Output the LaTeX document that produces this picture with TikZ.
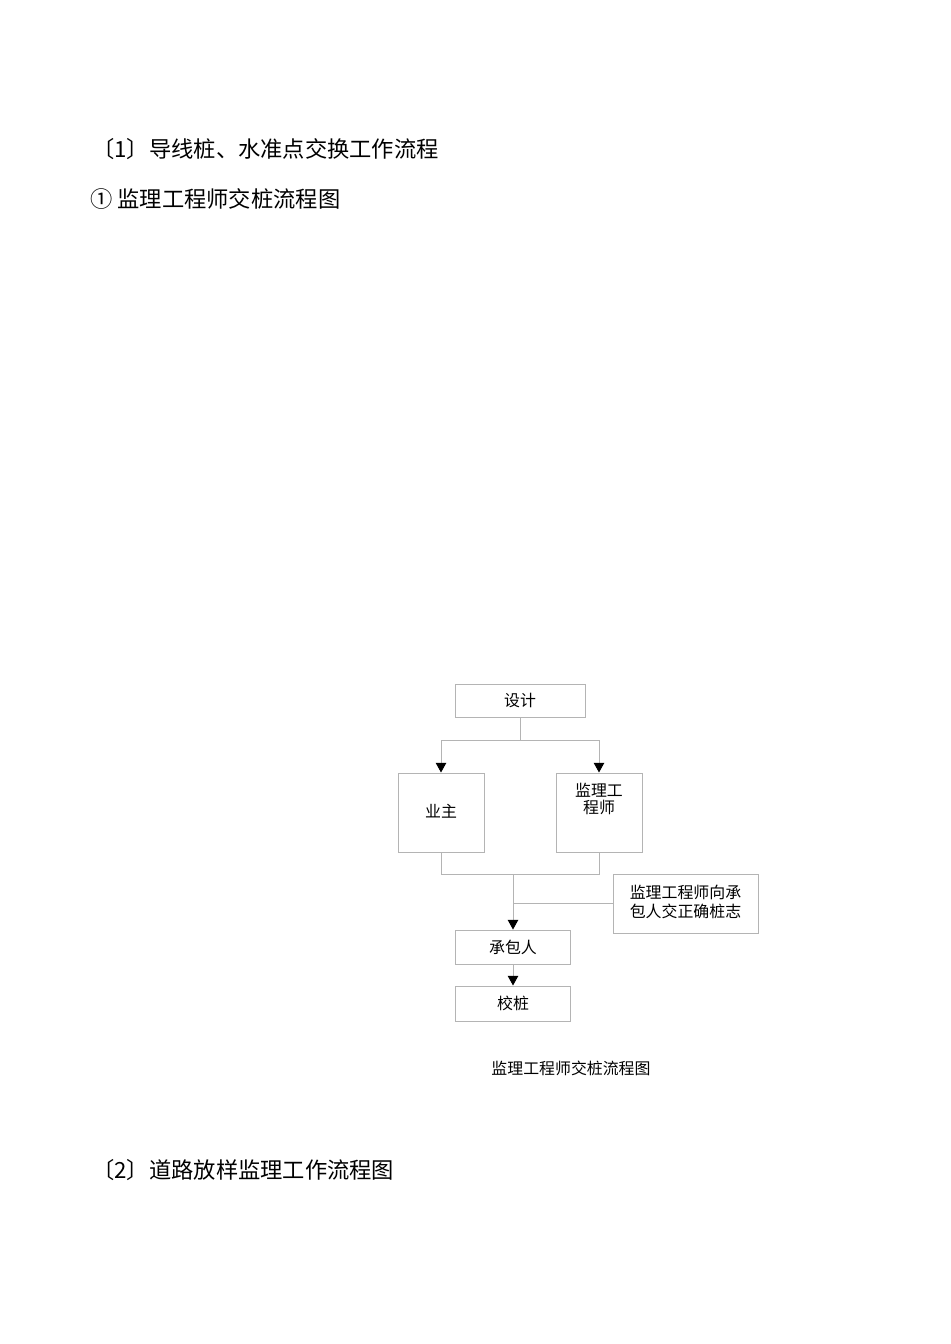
\documentclass[tikz,border=0pt]{standalone}
\usepackage{fontspec}
\setmainfont{Noto Sans CJK SC}
\usepackage{tikz}
\usetikzlibrary{arrows.meta}
\definecolor{linegray}{HTML}{B4B4B4}
\tikzset{>=Triangle,
  box/.style={draw=linegray,line width=0.6pt,font=\fontsize{10}{11.5}\selectfont,align=center,inner sep=2pt},
  link/.style={draw=linegray,line width=0.6pt},
  arrow/.style={link,-{Triangle[black,width=6.5pt,length=6pt]}},
  heading/.style={anchor=west,inner sep=0pt,font=\fontsize{14}{16}\selectfont}}

\begin{document}
\begin{tikzpicture}[x=0.0221cm,y=-0.0221cm]
  \useasboundingbox (0,0) rectangle (950,1344);
  \node[heading] at (92, 149) (h1) {〔1〕导线桩、水准点交换工作流程};
  \node[heading] at (90, 199)  (h2) {① 监理工程师交桩流程图};
  \node[heading] at (92, 1170) (h3) {〔2〕道路放样监理工作流程图};
      % boxes
  \node[box,minimum width=2.873cm,minimum height=0.729cm] at (520, 700.5) (sj) {设计};
  \node[box,minimum width=1.901cm,minimum height=1.746cm] at (441, 812.5) (yz) {\raisebox{2.5pt}{业主}};
  \node[box,minimum width=1.901cm,minimum height=1.746cm,
        label={[font=\fontsize{10}{11}\selectfont,align=center,anchor=north,yshift=-3pt]north:监理工\\程师}] at (599, 812.5) (jl) {};
  \node[box,minimum width=3.205cm,minimum height=1.304cm,align=left] at (685.5, 903.5) (jzz) {\raisebox{3pt}{\shortstack[l]{监理工程师向承\\包人交正确桩志}}};
  \node[box,minimum width=2.542cm,minimum height=0.751cm] at (513, 947) (cbr) {承包人};
  \node[box,minimum width=2.542cm,minimum height=0.774cm] at (513, 1003.5) (xz) {校桩};
  \node[font=\fontsize{10}{12}\selectfont] at (571, 1068) (cap) {监理工程师交桩流程图};
      % connectors
  \draw[link] (sj.south) -- ++(0, 23) coordinate (fork);
  \draw[arrow] (fork) -| (yz.north);
  \draw[arrow] (fork) -| (jl.north);
  \coordinate (join) at (513, 874);
  \draw[link] (yz.south) |- (jl.south |- join) -- (jl.south);
  \draw[arrow] (join) -- (cbr.north);
  \draw[link] (cbr.north |- jzz.west) -- (jzz.west);
  \draw[arrow] (cbr) -- (xz);
\end{tikzpicture}
\end{document}
